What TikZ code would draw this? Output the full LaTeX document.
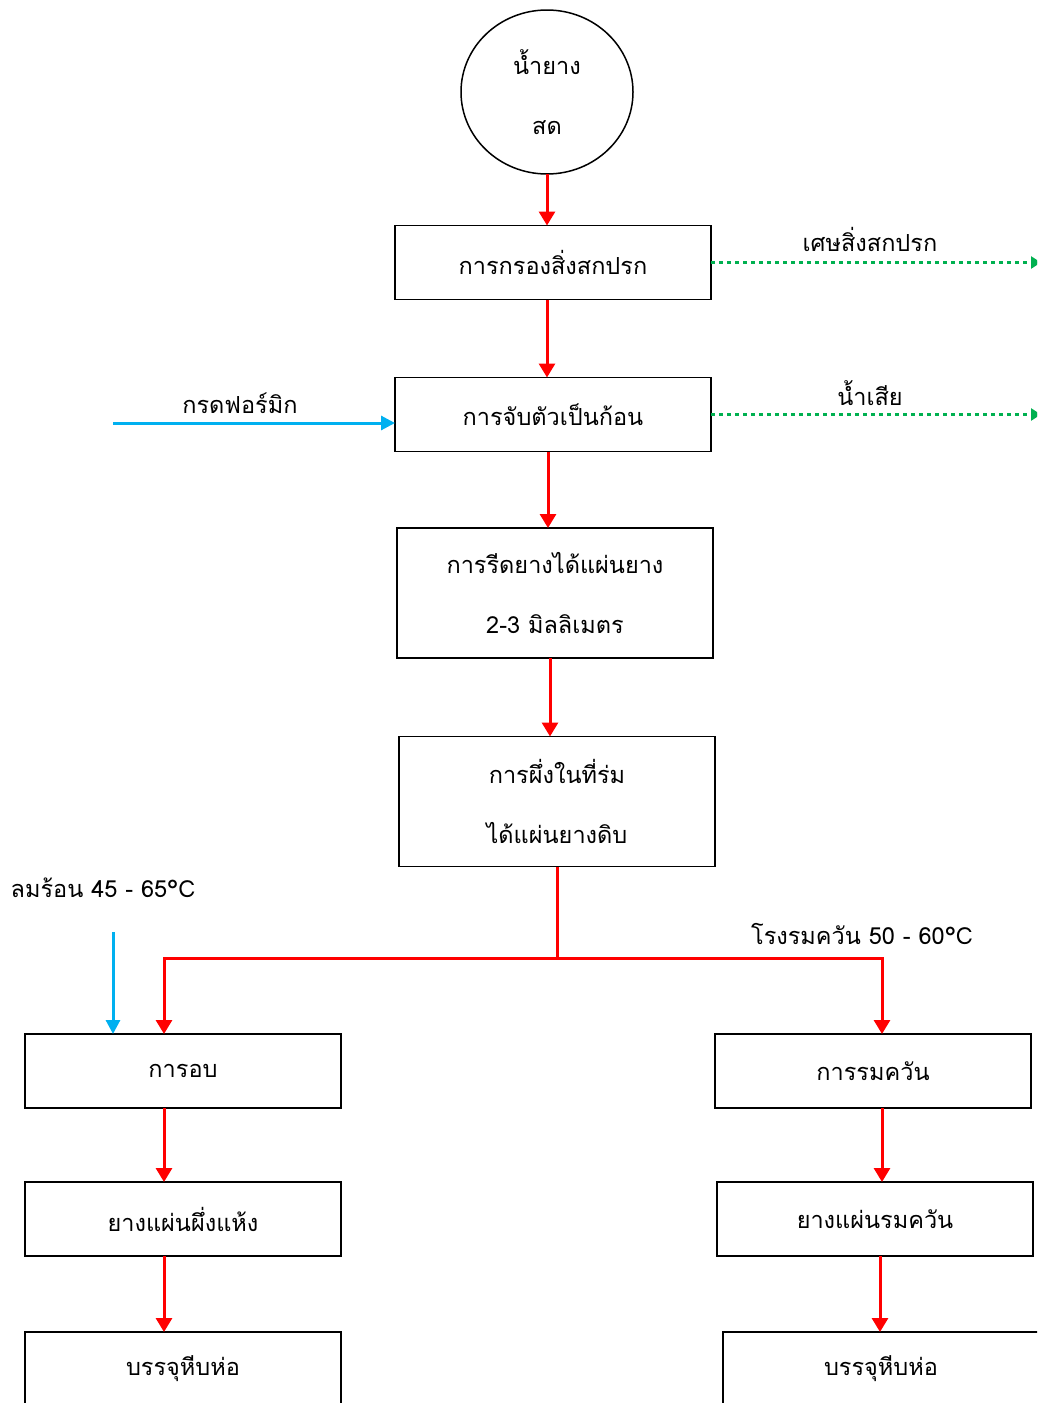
\documentclass[tikz,border=0pt]{standalone}
\usepackage{fontspec}
\setmainfont{Loma}[Script=Thai]
\usetikzlibrary{arrows.meta, positioning, shapes.geometric}
\definecolor{flowred}{HTML}{FF0000}
\definecolor{flowblue}{HTML}{00B0F0}
\definecolor{flowgreen}{HTML}{00B050}

\begin{document}
\begin{tikzpicture}[
    x=1pt, y=-1pt,
    node distance=78pt,
    every node/.style={font=\fontsize{23.5}{60}\selectfont},
    box/.style={draw, line width=1.5pt, align=center, minimum width=316pt, minimum height=74pt, inner sep=0pt, outer sep=0pt},
    tallbox/.style={box, minimum height=130pt},
    source/.style={ellipse, draw, line width=1.5pt, align=center, minimum width=172pt, minimum height=164pt, inner sep=0pt, outer sep=0pt},
    note/.style={inner sep=2pt},
    main/.style={-{Triangle[length=14pt, width=16pt]}, line width=3pt, flowred},
    feed/.style={-{Triangle[length=14pt, width=14pt]}, line width=3pt, flowblue},
    waste/.style={-{Triangle[length=10pt, width=12pt]}, line width=3pt, flowgreen, dash pattern=on 4pt off 4pt},
  ]
  \useasboundingbox (0,0) rectangle (1037,1403);
  \clip (0,0) rectangle (1037,1403);
  % --- main line
  \node[source] (latex) at (547,92) {น้ำยาง\\สด};
  \node[box] (filter) at (553,262.5) {การกรองสิ่งสกปรก};
  \node[box, below=of filter] (coag) {การจับตัวเป็นก้อน};
  \node[tallbox, below=76.5pt of coag, xshift=2pt] (press) {การรีดยางได้แผ่นยาง\\2-3 มิลลิเมตร};
  \node[tallbox, below=78.5pt of press, xshift=2pt] (shade) {การผึ่งในที่ร่ม\\ได้แผ่นยางดิบ};
  % --- left branch
  \node[box] (bake) at (183,1071) {การอบ};
  \node[box, below=74pt of bake] (airdry) {ยางแผ่นผึ่งแห้ง};
  \node[box, below=76pt of airdry] (packa) {บรรจุหีบห่อ};
  % --- right branch
  \node[box] (smoke) at (873,1071) {การรมควัน};
  \node[box, below=74pt of smoke, xshift=2pt] (smoked) {ยางแผ่นรมควัน};
  \node[box, below=76pt of smoked, xshift=6pt] (packb) {บรรจุหีบห่อ};
  % --- side inputs and outputs
  \node[note] (acid) at (240,403) {กรดฟอร์มิก};
  \node[note] (hotair) at (103,888) {ลมร้อน 45 - 65°C};
  \node[note] (dirt) at (870,239) {เศษสิ่งสกปรก};
  \node[note] (water) at (870,393) {น้ำเสีย};
  \node[note] (smokehouse) at (862,934) {โรงรมควัน 50 - 60°C};
  \coordinate (acidin) at (113,423);
  \coordinate (airin) at (113,932);
  \coordinate (dirtout) at (1041,262.5);
  \coordinate (waterout) at (1041,414.5);
  \coordinate (split) at (shade.south |- 0,958);
  % --- edges
  \draw[main] (latex) -- (latex |- filter.north);
  \draw[main] ([xshift=-6pt]filter.south) -- ([xshift=-6pt]filter.south |- coag.north);
  \draw[main] ([xshift=-5pt]coag.south) -- ([xshift=-5pt]coag.south |- press.north);
  \draw[main] ([xshift=-5pt]press.south) -- ([xshift=-5pt]press.south |- shade.north);
  \draw[main] (shade.south) -- (split) -| ([xshift=-19pt]bake.north);
  \draw[main] (split) -| ([xshift=9pt]smoke.north);
  \draw[main] ([xshift=-19pt]bake.south) -- ([xshift=-19pt]bake.south |- airdry.north);
  \draw[main] ([xshift=-19pt]airdry.south) -- ([xshift=-19pt]airdry.south |- packa.north);
  \draw[main] ([xshift=9pt]smoke.south) -- ([xshift=9pt]smoke.south |- smoked.north);
  \draw[main] ([xshift=5pt]smoked.south) -- ([xshift=5pt]smoked.south |- packb.north);
  \draw[feed] (acidin) -- (acidin -| coag.west);
  \draw[feed] (airin) -- (airin |- bake.north);
  \draw[waste] (filter.east) -- (dirtout);
  \draw[waste] (coag.east) -- (waterout);
\end{tikzpicture}
\end{document}
